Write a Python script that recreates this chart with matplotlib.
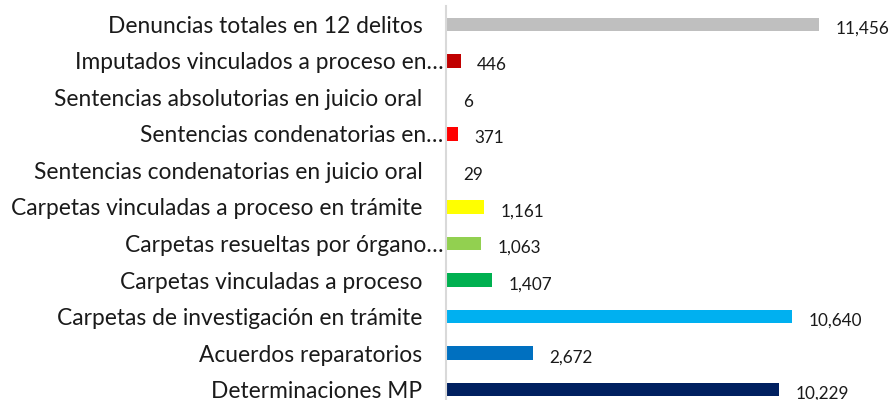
import matplotlib
matplotlib.use('Agg')
import matplotlib.pyplot as plt

# Categorías (de abajo hacia arriba) y valores
categorias = ['Determinaciones MP', 'Acuerdos reparatorios',
              'Carpetas de investigación en trámite', 'Carpetas vinculadas a proceso',
              'Carpetas resueltas por órgano…', 'Carpetas vinculadas a proceso en trámite',
              'Sentencias condenatorias en juicio oral', 'Sentencias condenatorias en…',
              'Sentencias absolutorias en juicio oral', 'Imputados vinculados a proceso en…',
              'Denuncias totales en 12 delitos']
valores = [10229, 2672, 10640, 1407, 1063, 1161, 29, 371, 6, 446, 11456]
colores = ['#002060', '#0070C0', '#00B0F0', '#00B050', '#92D050', '#FFFF00',
           '#EEECE1', '#FF0000', '#DCE6F2', '#C00000', '#BFBFBF']

plt.rcParams['font.family'] = ['Lato', 'DejaVu Sans']

fig = plt.figure(figsize=(8.91, 4.0), dpi=100)
ax = fig.add_axes([0.5006, -0.0194, 0.4747, 1.0038])

ypos = list(range(len(categorias)))
ax.barh(ypos, valores, height=0.36, color=colores)

for y, v in zip(ypos, valores):
    ax.annotate(f'{v:,}', (v, y), xytext=(12, -3), textcoords='offset points',
                ha='left', va='center', fontsize=12.3, color='#1a1a1a')

ax.set_xlim(0, 13000)
ax.set_ylim(-0.5, len(categorias) - 0.5)
ax.set_yticks(ypos)
ax.set_yticklabels(categorias, fontsize=16.4, color='#1a1a1a')
ax.tick_params(axis='y', length=0, pad=17)
ax.set_xticks([])

# las etiquetas recortadas llegan casi hasta el eje
for lbl in ax.get_yticklabels():
    if lbl.get_text().endswith('…'):
        lbl.set_x(0.05)

for s in ['top', 'right', 'bottom']:
    ax.spines[s].set_visible(False)
ax.spines['left'].set_color('#D9D9D9')
ax.spines['left'].set_linewidth(1.5)

fig.savefig('out.png', dpi=100)
